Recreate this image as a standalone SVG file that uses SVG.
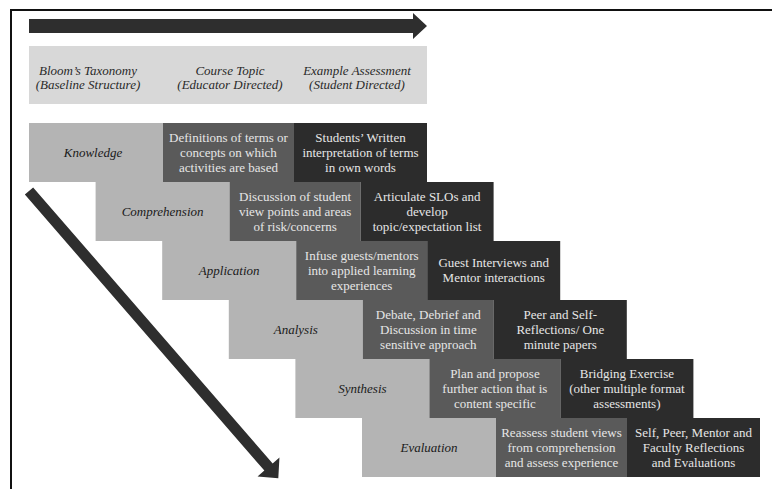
<svg xmlns="http://www.w3.org/2000/svg" width="772" height="489" viewBox="0 0 772 489">
<style>
.bg{fill:#ffffff}
.frame{stroke:#111;stroke-width:2;fill:none}
.band{fill:#d8d8d8}
.lt{fill:#b4b4b4}
.md{fill:#5a5a5a}
.dk{fill:#2c2c2c}
.arrow{fill:#2e2e2e}
.hd{font-family:"Liberation Serif",serif;font-style:italic;font-size:13px;fill:#2a2a2a;text-anchor:middle}
.lb{font-family:"Liberation Serif",serif;font-style:italic;font-size:13px;fill:#1a1a1a;text-anchor:middle}
.tx{font-family:"Liberation Serif",serif;font-size:13px;fill:#e6e6e6;text-anchor:middle}
</style>
<rect class="bg" x="0" y="0" width="772" height="489"/>
<path class="frame" d="M11,489 V10 H772"/>
<g id="arrows">
<polygon class="arrow" points="29,19 413,19 413,13 427,26 413,39 413,33 29,33"/>
<polygon class="arrow" points="33.15,187.4 272.65,463.4 279.45,457.5 278.3,478.3 257.55,476.5 264.35,470.6 24.85,194.6"/>
</g>
<g id="header">
<rect class="band" x="29" y="46" width="398" height="58"/>
<text class="hd" x="88" y="75">Bloom’s Taxonomy</text>
<text class="hd" x="88" y="89">(Baseline Structure)</text>
<text class="hd" x="230" y="75">Course Topic</text>
<text class="hd" x="230" y="89">(Educator Directed)</text>
<text class="hd" x="357" y="75">Example Assessment</text>
<text class="hd" x="357" y="89">(Student Directed)</text>
</g>
<g id="row-knowledge">
<rect class="lt" x="29" y="123" width="134" height="59"/>
<rect class="md" x="163" y="123" width="131" height="59"/>
<rect class="dk" x="294" y="123" width="133" height="59"/>
<text class="lb" x="93" y="156.5">Knowledge</text>
<text class="tx" x="228.5" y="141.5">Definitions of terms or</text>
<text class="tx" x="228.5" y="156.5">concepts on which</text>
<text class="tx" x="228.5" y="171.5">activities are based</text>
<text class="tx" x="360.5" y="141.5">Students’ Written</text>
<text class="tx" x="360.5" y="156.5">interpretation of terms</text>
<text class="tx" x="360.5" y="171.5">in own words</text>
</g>
<g id="row-comprehension">
<rect class="lt" x="95.6" y="182" width="134" height="59"/>
<rect class="md" x="229.6" y="182" width="131" height="59"/>
<rect class="dk" x="360.6" y="182" width="133" height="59"/>
<text class="lb" x="162.6" y="215.5">Comprehension</text>
<text class="tx" x="295.1" y="200.5">Discussion of student</text>
<text class="tx" x="295.1" y="215.5">view points and areas</text>
<text class="tx" x="295.1" y="230.5">of risk/concerns</text>
<text class="tx" x="427.1" y="200.5">Articulate SLOs and</text>
<text class="tx" x="427.1" y="215.5">develop</text>
<text class="tx" x="427.1" y="230.5">topic/expectation list</text>
</g>
<g id="row-application">
<rect class="lt" x="162.2" y="241" width="134" height="59"/>
<rect class="md" x="296.2" y="241" width="131" height="59"/>
<rect class="dk" x="427.2" y="241" width="133" height="59"/>
<text class="lb" x="229.2" y="274.5">Application</text>
<text class="tx" x="361.7" y="259.5">Infuse guests/mentors</text>
<text class="tx" x="361.7" y="274.5">into applied learning</text>
<text class="tx" x="361.7" y="289.5">experiences</text>
<text class="tx" x="493.7" y="267">Guest Interviews and</text>
<text class="tx" x="493.7" y="282">Mentor interactions</text>
</g>
<g id="row-analysis">
<rect class="lt" x="228.8" y="300" width="134" height="59"/>
<rect class="md" x="362.8" y="300" width="131" height="59"/>
<rect class="dk" x="493.8" y="300" width="133" height="59"/>
<text class="lb" x="295.8" y="333.5">Analysis</text>
<text class="tx" x="428.3" y="318.5">Debate, Debrief and</text>
<text class="tx" x="428.3" y="333.5">Discussion in time</text>
<text class="tx" x="428.3" y="348.5">sensitive approach</text>
<text class="tx" x="560.3" y="318.5">Peer and Self-</text>
<text class="tx" x="560.3" y="333.5">Reflections/ One</text>
<text class="tx" x="560.3" y="348.5">minute papers</text>
</g>
<g id="row-synthesis">
<rect class="lt" x="295.4" y="359" width="134" height="59"/>
<rect class="md" x="429.4" y="359" width="131" height="59"/>
<rect class="dk" x="560.4" y="359" width="133" height="59"/>
<text class="lb" x="362.4" y="392.5">Synthesis</text>
<text class="tx" x="494.9" y="377.5">Plan and propose</text>
<text class="tx" x="494.9" y="392.5">further action that is</text>
<text class="tx" x="494.9" y="407.5">content specific</text>
<text class="tx" x="626.9" y="377.5">Bridging Exercise</text>
<text class="tx" x="626.9" y="392.5">(other multiple format</text>
<text class="tx" x="626.9" y="407.5">assessments)</text>
</g>
<g id="row-evaluation">
<rect class="lt" x="362" y="418" width="134" height="59"/>
<rect class="md" x="496" y="418" width="131" height="59"/>
<rect class="dk" x="627" y="418" width="133" height="59"/>
<text class="lb" x="429" y="451.5">Evaluation</text>
<text class="tx" x="561.5" y="436.5">Reassess student views</text>
<text class="tx" x="561.5" y="451.5">from comprehension</text>
<text class="tx" x="561.5" y="466.5">and assess experience</text>
<text class="tx" x="693.5" y="436.5">Self, Peer, Mentor and</text>
<text class="tx" x="693.5" y="451.5">Faculty Reflections</text>
<text class="tx" x="693.5" y="466.5">and Evaluations</text>
</g>
</svg>
